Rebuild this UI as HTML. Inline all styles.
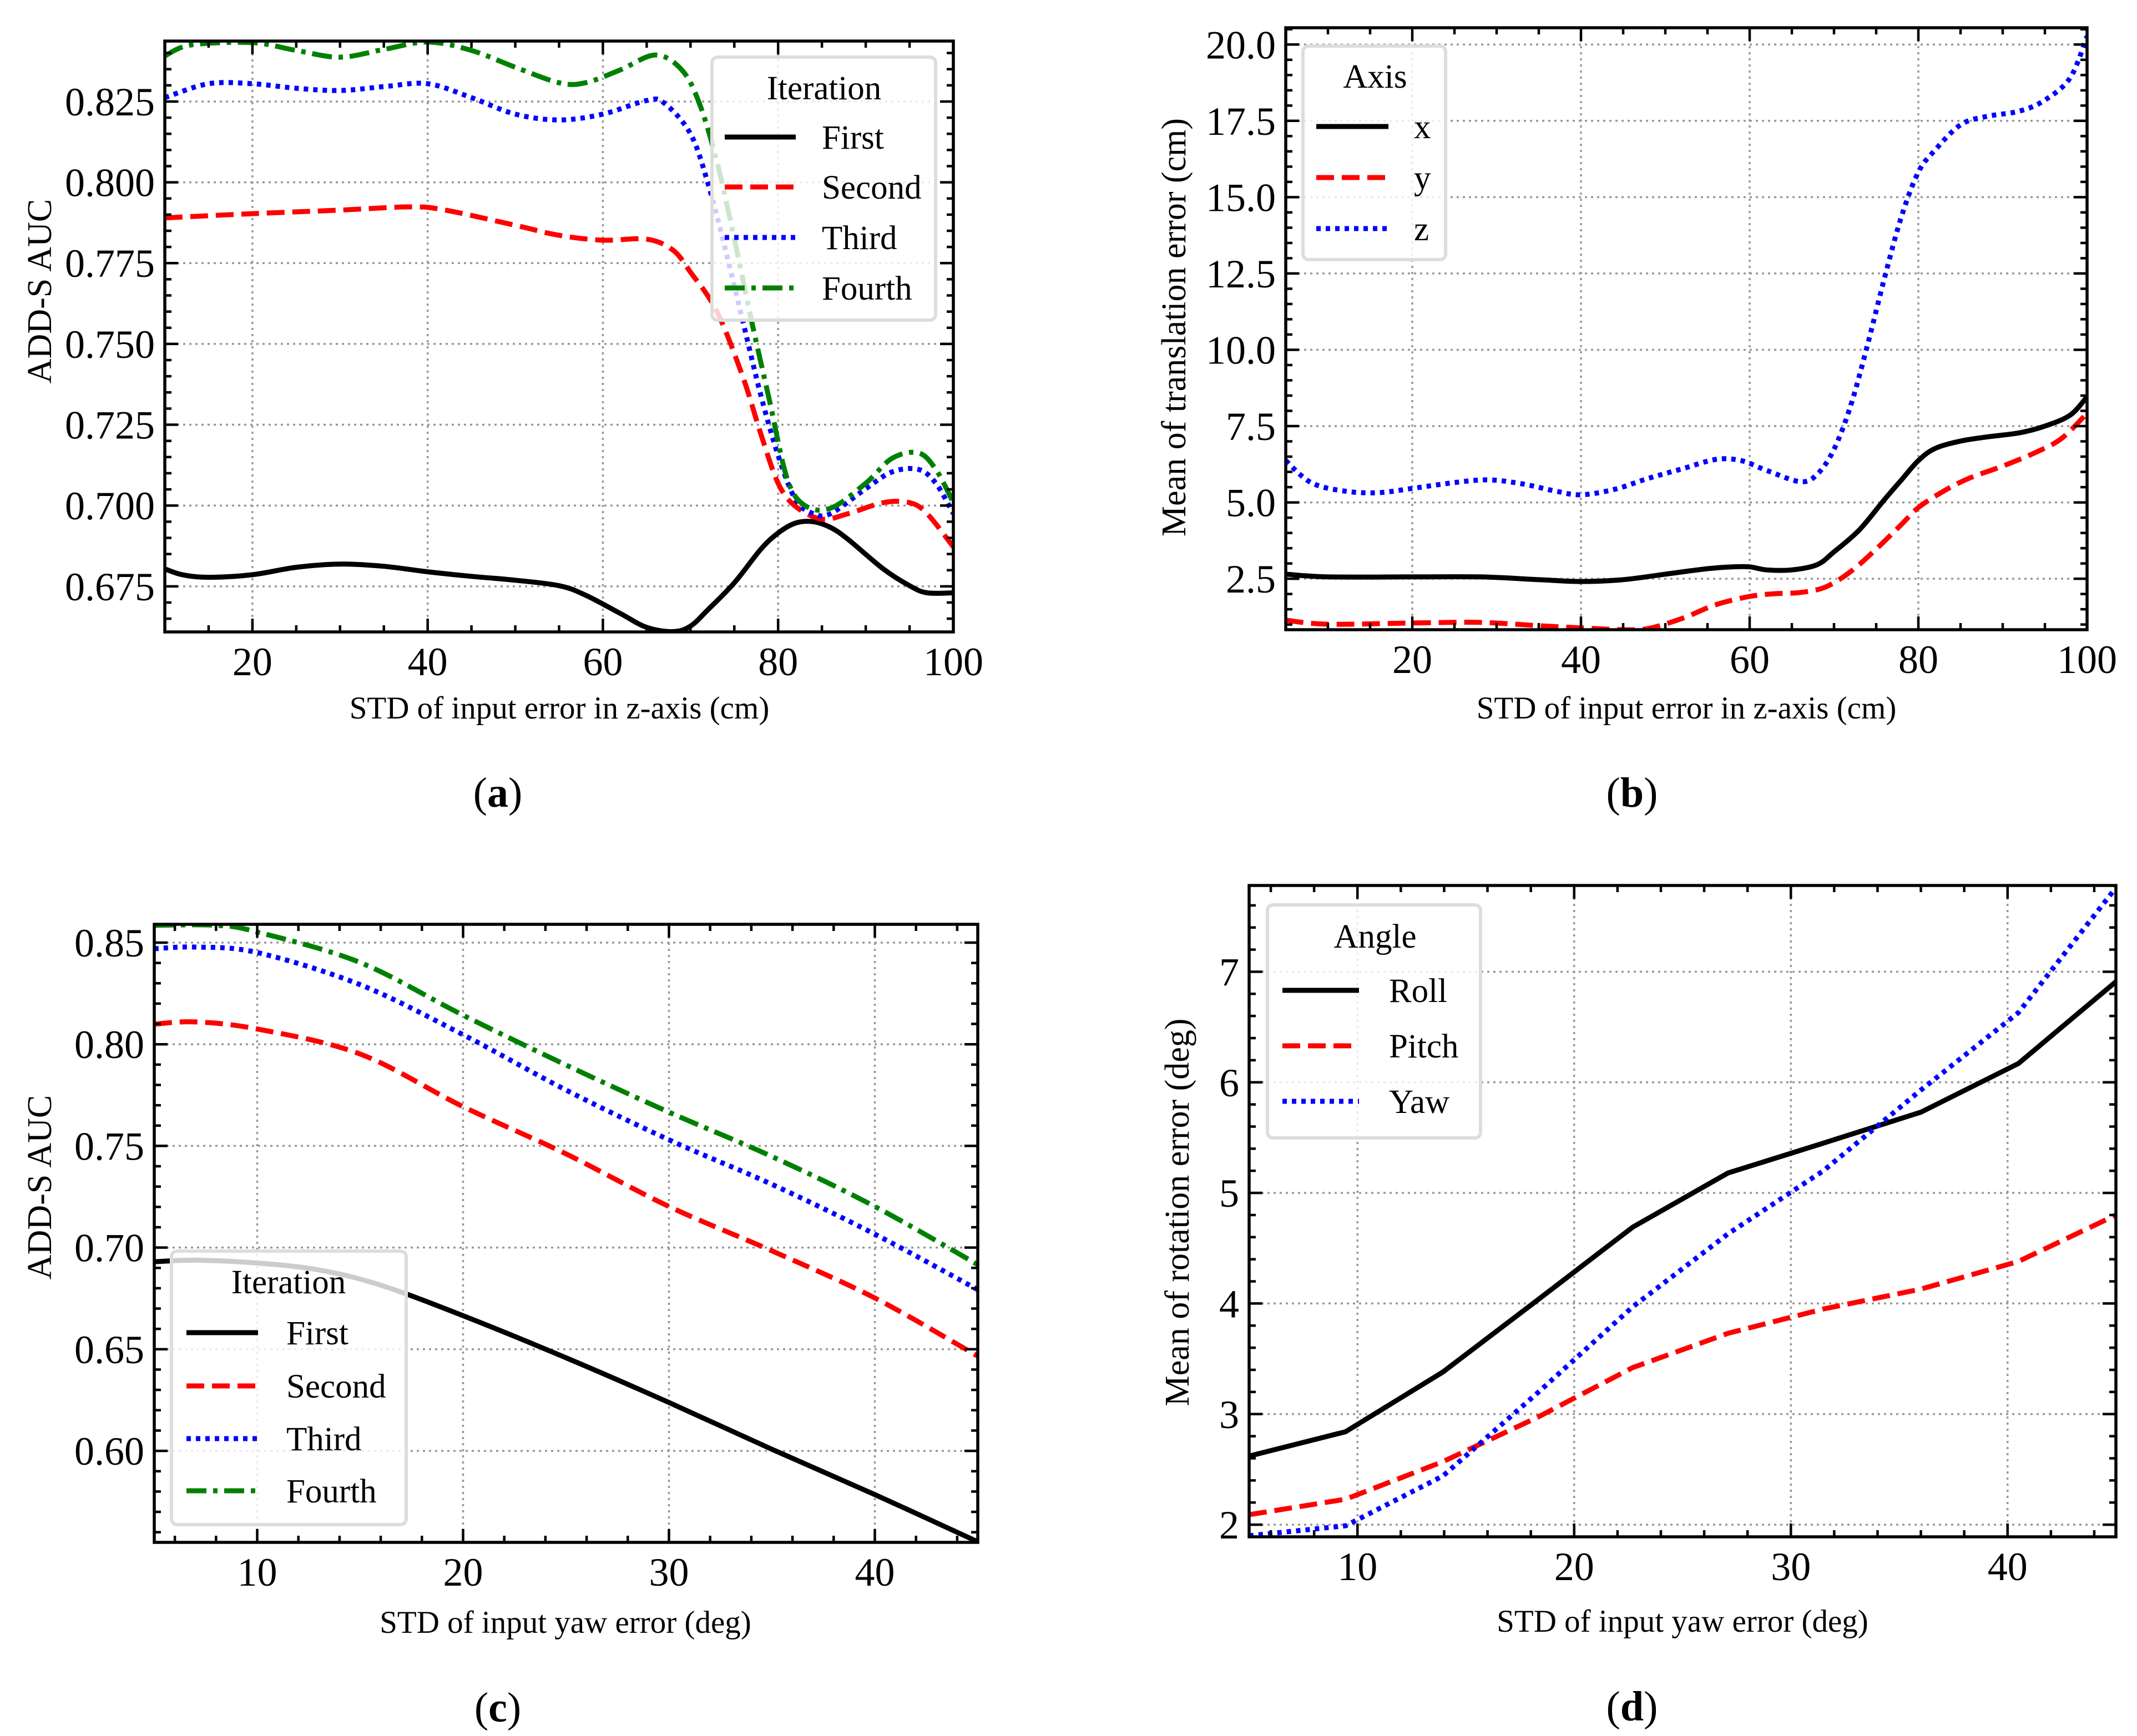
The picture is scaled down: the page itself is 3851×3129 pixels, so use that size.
<!DOCTYPE html>
<html><head><meta charset="utf-8">
<style>
html,body{margin:0;padding:0;background:#fff;}
svg{display:block;font-family:"Liberation Serif","DejaVu Serif",serif;}
</style></head>
<body>
<svg id="fig" width="3851" height="3129" viewBox="0 0 3851 3129" xmlns="http://www.w3.org/2000/svg">
<rect width="3851" height="3129" fill="#fff"/>
</svg>
<script>
// ---------- Panel (a) data ----------
const aFirstX = [10,12,15,20,25,30,35,40,45,50,55,58,62,65,68,70,72,75,78,80,82,84,86,88,92,95,97,100];
const aFirstY = [0.6804,0.6786,0.6778,0.6786,0.6809,0.6819,0.6812,0.6795,0.6781,0.6769,0.6752,0.6723,0.6666,0.6623,0.661,0.6627,0.6678,0.6761,0.6864,0.6915,0.6946,0.695,0.6932,0.6895,0.6804,0.6752,0.673,0.673];
const aSecondX = [10,20,30,38,42,50,55,60,65,68,70,73,76,78,80,82,85,88,92,95,97,100];
const aSecondY = [0.789,0.7903,0.7914,0.7924,0.7914,0.7867,0.7836,0.7821,0.7824,0.779,0.7722,0.7601,0.7396,0.7224,0.7069,0.6997,0.6958,0.6975,0.7009,0.7009,0.6975,0.6872];
const aThirdX = [10,15,20,25,30,35,40,45,50,55,60,65,67,70,72,74,76,78,80,82,84,86,90,93,96,98,100];
const aThirdY = [0.8262,0.8305,0.8305,0.8291,0.8284,0.8296,0.8305,0.8262,0.8211,0.8193,0.8211,0.8253,0.8245,0.815,0.7996,0.779,0.7567,0.7344,0.7155,0.7018,0.6975,0.6975,0.7052,0.7104,0.7112,0.7069,0.6975];
const aFourthX = [10,13,20,25,30,35,40,45,50,55,58,62,66,69,71,73,75,77,79,81,83,86,90,93,96,98,100];
const aFourthY = [0.8391,0.8425,0.8432,0.8408,0.8387,0.8411,0.8434,0.8408,0.8356,0.8308,0.8308,0.8348,0.8394,0.8348,0.8245,0.8065,0.7825,0.7567,0.7327,0.7086,0.7001,0.6992,0.7069,0.7146,0.7163,0.7112,0.7009];
const aXTicks = [20,40,60,80,100];
const aYTicks = [0.675,0.700,0.725,0.750,0.775,0.800,0.825];
const aYTickLabels = ["0.675","0.700","0.725","0.750","0.775","0.800","0.825"];

// ---------- Panel (b) data ----------
const bXx = [5,10,20,28,35,40,45,50,55,58,60,62,65,68,70,73,76,78,80,82,85,88,92,95,98,100];
const bXy = [2.65,2.56,2.56,2.56,2.47,2.41,2.47,2.65,2.83,2.89,2.89,2.79,2.79,2.96,3.38,4.1,5.1,5.74,6.37,6.77,7.01,7.14,7.28,7.5,7.86,8.46];
const bYx = [5,10,20,28,35,40,45,48,52,56,60,63,66,69,72,75,78,80,83,86,90,94,97,100];
const bYy = [1.14,1.01,1.05,1.07,0.96,0.89,0.83,0.87,1.2,1.65,1.92,2.01,2.05,2.23,2.74,3.47,4.28,4.83,5.37,5.79,6.19,6.65,7.1,7.92];
const bZx = [5,8,12,16,20,25,29,33,37,40,44,48,52,56,59,62,66,68,70,72,74,76,78,80,82,85,88,92,95,98,100];
const bZy = [6.37,5.65,5.37,5.32,5.46,5.65,5.74,5.61,5.37,5.25,5.43,5.79,6.1,6.41,6.37,6.05,5.68,5.92,6.74,8.19,10.19,12.37,14.37,15.82,16.55,17.37,17.64,17.82,18.18,18.91,20.27];
const bXTicks = [20,40,60,80,100];
const bYTicks = [2.5,5,7.5,10,12.5,15,17.5,20];
const bYTickLabels = ["2.5","5.0","7.5","10.0","12.5","15.0","17.5","20.0"];

// ---------- Panel (c) data ----------
const cFirstX = [5,7,10,13,16,20,25,30,35,40,45];
const cFirstY = [0.693,0.6938,0.6924,0.689,0.6815,0.6665,0.6458,0.6238,0.6008,0.5785,0.5553];
const cSecondX = [5,7,10,15,20,25,30,35,40,45];
const cSecondY = [0.8099,0.811,0.8075,0.7952,0.7693,0.7461,0.7202,0.6984,0.6752,0.6466];
const cThirdX = [5,7,10,15,20,25,30,35,40,45];
const cThirdY = [0.847,0.8478,0.8451,0.8293,0.8047,0.7775,0.753,0.7311,0.7066,0.6793];
const cFourthX = [5,8,10,15,20,25,30,35,40,45];
const cFourthY = [0.8585,0.8585,0.8552,0.8402,0.8143,0.7898,0.7666,0.7448,0.7202,0.6916];
const cXTicks = [10,20,30,40];
const cYTicks = [0.60,0.65,0.70,0.75,0.80,0.85];
const cYTickLabels = ["0.60","0.65","0.70","0.75","0.80","0.85"];

// ---------- Panel (d) data ----------
const dX = [5,9.45,13.94,18.3,22.7,27.1,31.5,36.0,40.5,45];
const dRoll = [2.62,2.84,3.38,4.03,4.69,5.18,5.45,5.73,6.17,6.91];
const dPitch = [2.09,2.23,2.57,2.97,3.42,3.73,3.95,4.13,4.38,4.8];
const dYaw = [1.9,1.99,2.44,3.19,3.97,4.63,5.2,5.93,6.63,7.76];
const dXTicks = [10,20,30,40];
const dYTicks = [2,3,4,5,6,7];
const dYTickLabels = ["2","3","4","5","6","7"];

const NS = "http://www.w3.org/2000/svg";
const svg = document.getElementById("fig");
function mk(tag, attrs, parent){
  const e = document.createElementNS(NS, tag);
  for (const k in attrs) e.setAttribute(k, attrs[k]);
  (parent||svg).appendChild(e);
  return e;
}
const STYLES = {
  solid:{stroke:"#000","stroke-dasharray":"none"},
  dashed:{stroke:"#ff0000","stroke-dasharray":"32 14"},
  dotted:{stroke:"#0000ff","stroke-dasharray":"8 9"},
  dashdot:{stroke:"#008000","stroke-dasharray":"36 12 8 12"}
};
function smoothPath(P){
  let d = "M"+P[0][0].toFixed(1)+","+P[0][1].toFixed(1);
  for (let i=0;i<P.length-1;i++){
    const p0=P[Math.max(0,i-1)],p1=P[i],p2=P[i+1],p3=P[Math.min(P.length-1,i+2)];
    const c1x=p1[0]+(p2[0]-p0[0])/6,c1y=p1[1]+(p2[1]-p0[1])/6;
    const c2x=p2[0]-(p3[0]-p1[0])/6,c2y=p2[1]-(p3[1]-p1[1])/6;
    d+=" C"+c1x.toFixed(1)+","+c1y.toFixed(1)+" "+c2x.toFixed(1)+","+c2y.toFixed(1)+" "+p2[0].toFixed(1)+","+p2[1].toFixed(1);
  }
  return d;
}

function panel(cfg){
  const g = mk("g",{});
  
  
  const {L,R,T,B,xmin,xmax,ymin,ymax} = cfg;
  const sx = v => L + (v-xmin)/(xmax-xmin)*(R-L);
  const sy = v => B - (v-ymin)/(ymax-ymin)*(B-T);
  cfg.xTicks.forEach(v=>{
    const l = mk("line",{x1:sx(v),x2:sx(v),y1:T,y2:B,stroke:"#999","stroke-width":3.5,"stroke-dasharray":"4 7"},g);
    
    
  });
  cfg.yTicks.forEach(v=>{
    const l = mk("line",{x1:L,x2:R,y1:sy(v),y2:sy(v),stroke:"#999","stroke-width":3.5,"stroke-dasharray":"4 7"},g);
    
    
  });
  const cp = mk("clipPath",{id:cfg.id+"clip"},g);
  mk("rect",{x:L,y:T,width:R-L,height:B-T},cp);
  const series = mk("g",{"clip-path":"url(#"+cfg.id+"clip)"},g);
  
  
  cfg.series.forEach(s=>{
    const P = s.x.map((xv,i)=>[sx(xv),sy(s.y[i])]);
    const st = STYLES[s.style];
    const d = cfg.smooth ? smoothPath(P) : "M"+P.map(p=>p[0].toFixed(1)+","+p[1].toFixed(1)).join(" L");
    const p = mk("path",{d:d,fill:"none",stroke:st.stroke,"stroke-width":9,"stroke-dasharray":st["stroke-dasharray"],"stroke-linejoin":"round"},series);
    
    
  });
  const tk = mk("g",{stroke:"#000","stroke-width":4.5},g);
  
  
  const eps=1e-9;
  for (let i=Math.ceil(xmin/cfg.xMinor-eps); i*cfg.xMinor<=xmax+eps; i++){
    const v=i*cfg.xMinor;
    const major = cfg.xTicks.some(t=>Math.abs(t-v)<1e-6);
    const len = major?24:12, x=sx(v);
    mk("line",{x1:x,x2:x,y1:B,y2:B-len},tk);
    mk("line",{x1:x,x2:x,y1:T,y2:T+len},tk);
  }
  for (let i=Math.ceil(ymin/cfg.yMinor-eps); i*cfg.yMinor<=ymax+eps; i++){
    const v=i*cfg.yMinor;
    const major = cfg.yTicks.some(t=>Math.abs(t-v)<1e-6);
    const len = major?24:12, y=sy(v);
    mk("line",{x1:L,x2:L+len,y1:y,y2:y},tk);
    mk("line",{x1:R,x2:R-len,y1:y,y2:y},tk);
  }
  const fr = mk("rect",{x:L,y:T,width:R-L,height:B-T,fill:"none",stroke:"#000","stroke-width":5.5},g);
  
  
  cfg.xTicks.forEach(v=>{
    const t = mk("text",{x:sx(v),y:B+78,"text-anchor":"middle","font-size":72},g);
    t.textContent = String(v);
    
    
  });
  cfg.yTicks.forEach((v,i)=>{
    const t = mk("text",{x:L-18,y:sy(v)+25,"text-anchor":"end","font-size":72},g);
    t.textContent = cfg.yLabels[i];
    
    
  });
  const xl = mk("text",{x:cfg.xlx,y:cfg.xly,"text-anchor":"middle","font-size":57},g);
  xl.textContent = cfg.xlabel;
  
  
  const yl = mk("text",{x:0,y:0,"text-anchor":"middle","font-size":62,transform:"translate("+cfg.ylx+","+cfg.yly+") rotate(-90)"},g);
  yl.textContent = cfg.ylabel;
  
  
  const cap = mk("text",{x:cfg.capx,y:cfg.capy+26,"text-anchor":"middle","font-size":76},g);
  cap.innerHTML = '(<tspan font-weight="bold">'+cfg.cap+'</tspan>)';
  
  
  const lg = cfg.legend;
  const lgg = mk("g",{},g);
  
  
  mk("rect",{x:lg.x1,y:lg.y1,width:lg.x2-lg.x1,height:lg.y2-lg.y1,rx:10,fill:"#fff","fill-opacity":0.8,stroke:"#ddd","stroke-width":6},lgg);
  const tt = mk("text",{x:lg.tx,y:lg.ty+21,"text-anchor":"middle","font-size":61},lgg);
  tt.textContent = lg.title;
  
  
  cfg.series.forEach((s,i)=>{
    const y = lg.ys[i];
    const st = STYLES[s.style];
    const ln = mk("line",{x1:lg.lx1,x2:lg.lx2,y1:y,y2:y,stroke:st.stroke,"stroke-width":9,"stroke-dasharray":st["stroke-dasharray"]},lgg);
    
    
    const te = mk("text",{x:lg.txx,y:y+21,"font-size":61},lgg);
    te.textContent = s.label;
    
    
  });
}

panel({id:"a",name:"panel-a",smooth:true,L:297,R:1718,T:74,B:1139,xmin:10,xmax:100,ymin:0.6609,ymax:0.8437,
  xTicks:aXTicks,yTicks:aYTicks,yLabels:aYTickLabels,xMinor:5,yMinor:0.005,
  xlabel:"STD of input error in z-axis (cm)",xlx:1008,xly:1295,ylabel:"ADD-S  AUC",ylx:92,yly:525,
  cap:"a",capx:897,capy:1428,
  series:[{x:aFirstX,y:aFirstY,style:"solid",label:"First",name:"line-first"},
          {x:aSecondX,y:aSecondY,style:"dashed",label:"Second",name:"line-second"},
          {x:aThirdX,y:aThirdY,style:"dotted",label:"Third",name:"line-third"},
          {x:aFourthX,y:aFourthY,style:"dashdot",label:"Fourth",name:"line-fourth"}],
  legend:{x1:1283,y1:103,x2:1686,y2:577,title:"Iteration",tx:1485,ty:158,ys:[247,337,428,519],lx1:1306,lx2:1434,txx:1481}});

panel({id:"b",name:"panel-b",smooth:true,L:2317,R:3761,T:50,B:1135,xmin:5,xmax:100,ymin:0.83,ymax:20.55,
  xTicks:bXTicks,yTicks:bYTicks,yLabels:bYTickLabels,xMinor:5,yMinor:0.5,
  xlabel:"STD of input error in z-axis (cm)",xlx:3039,xly:1295,ylabel:"Mean of translation error (cm)",ylx:2136,yly:590,
  cap:"b",capx:2941,capy:1428,
  series:[{x:bXx,y:bXy,style:"solid",label:"x",name:"line-x"},
          {x:bYx,y:bYy,style:"dashed",label:"y",name:"line-y"},
          {x:bZx,y:bZy,style:"dotted",label:"z",name:"line-z"}],
  legend:{x1:2348,y1:83,x2:2605,y2:468,title:"Axis",tx:2478,ty:137,ys:[228,320,412],lx1:2372,lx2:2502,txx:2548}});

panel({id:"c",name:"panel-c",smooth:true,L:278,R:1762,T:1666,B:2780,xmin:5,xmax:45,ymin:0.555,ymax:0.859,
  xTicks:cXTicks,yTicks:cYTicks,yLabels:cYTickLabels,xMinor:2,yMinor:0.01,
  xlabel:"STD of input yaw error (deg)",xlx:1019,xly:2943,ylabel:"ADD-S  AUC",ylx:92,yly:2140,
  cap:"c",capx:897,capy:3077,
  series:[{x:cFirstX,y:cFirstY,style:"solid",label:"First",name:"line-first"},
          {x:cSecondX,y:cSecondY,style:"dashed",label:"Second",name:"line-second"},
          {x:cThirdX,y:cThirdY,style:"dotted",label:"Third",name:"line-third"},
          {x:cFourthX,y:cFourthY,style:"dashdot",label:"Fourth",name:"line-fourth"}],
  legend:{x1:309,y1:2255,x2:732,y2:2748,title:"Iteration",tx:520,ty:2310,ys:[2402,2498,2593,2687],lx1:336,lx2:465,txx:516}});

panel({id:"d",name:"panel-d",smooth:false,L:2251,R:3813,T:1596,B:2770,xmin:5,xmax:45,ymin:1.89,ymax:7.78,
  xTicks:dXTicks,yTicks:dYTicks,yLabels:dYTickLabels,xMinor:2,yMinor:0.2,
  xlabel:"STD of input yaw error (deg)",xlx:3032,xly:2941,ylabel:"Mean of rotation error (deg)",ylx:2142,yly:2185,
  cap:"d",capx:2941,capy:3075,
  series:[{x:dX,y:dRoll,style:"solid",label:"Roll",name:"line-roll"},
          {x:dX,y:dPitch,style:"dashed",label:"Pitch",name:"line-pitch"},
          {x:dX,y:dYaw,style:"dotted",label:"Yaw",name:"line-yaw"}],
  legend:{x1:2284,y1:1631,x2:2668,y2:2051,title:"Angle",tx:2478,ty:1687,ys:[1785,1885,1985],lx1:2311,lx2:2449,txx:2503}});
</script>
</body></html>
